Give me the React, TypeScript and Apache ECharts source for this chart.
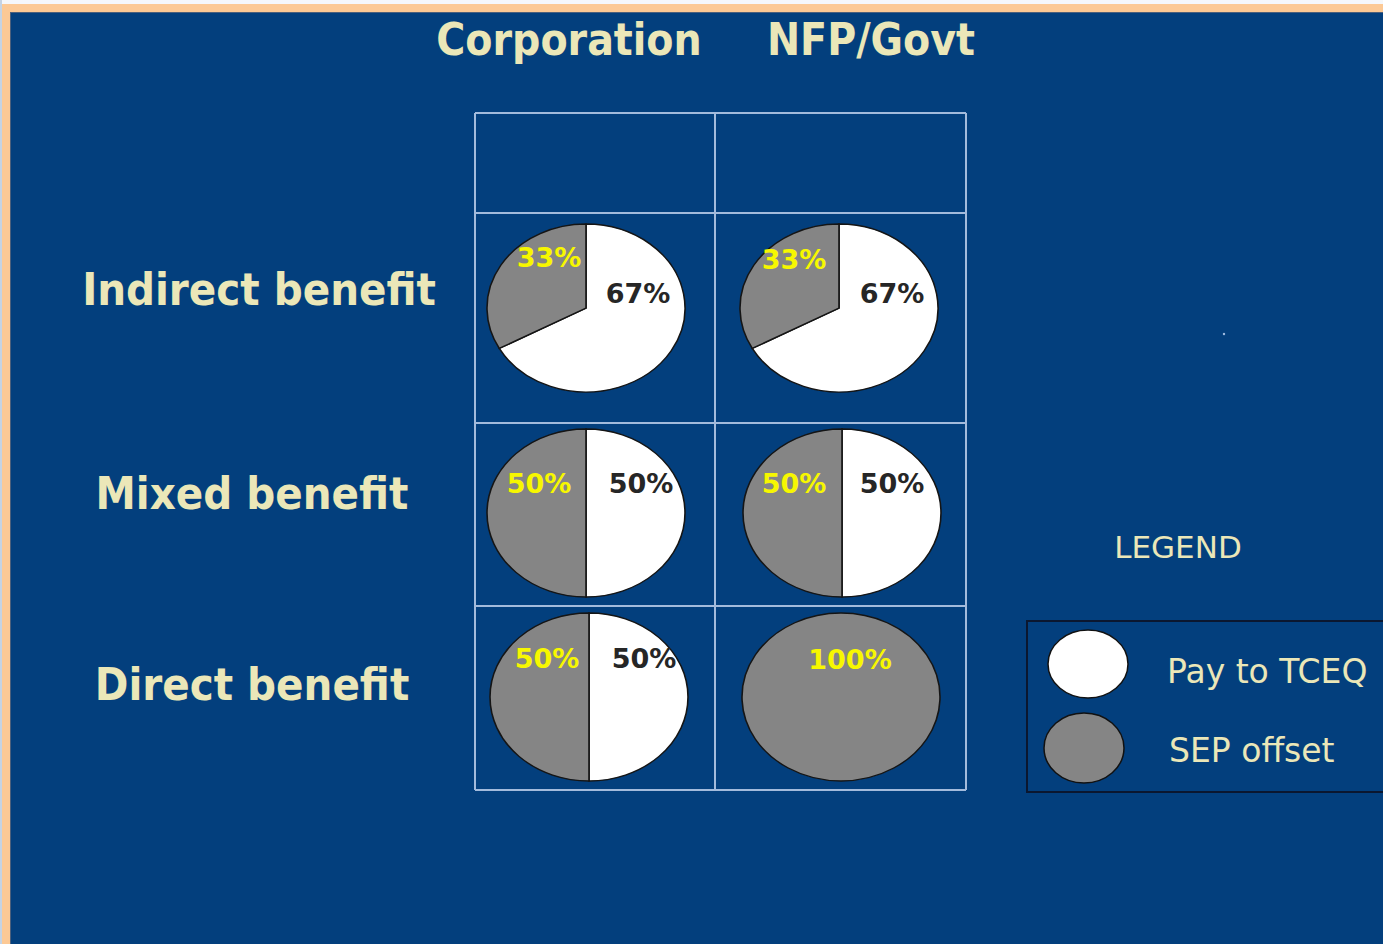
import React, { useEffect, useRef } from "react";
import * as echarts from "echarts";

// ---- data ----
const columns = ["Corporation", "NFP/Govt"];
const rowLabels = ["Indirect benefit", "Mixed benefit", "Direct benefit"];
// row-major: [Indirect-Corp, Indirect-NFP, Mixed-Corp, Mixed-NFP, Direct-Corp, Direct-NFP]
const payToTCEQ = [67, 67, 50, 50, 50, 0];
const sepOffset = [33, 33, 50, 50, 50, 100];
const legendTitle = "LEGEND";
const legendItems = ["Pay to TCEQ", "SEP offset"];

// ---- layout / style ----
const W = 1383;
const H = 944;
const BLUE = "#033f7d";
const CREAM = "#ebe7b8";
const GRAY = "#858585";
const YELLOW = "#f7f700";
const DARK = "#262626";
const GRIDLINE = "#a3bbdc";
const FONT_C = "'DejaVu Sans Condensed', 'DejaVu Sans', Verdana, sans-serif";
const FONT = "'DejaVu Sans', Verdana, sans-serif";
const RX = 99;
const RY = 84;
const cellCenters = [
  [586, 308], [839, 308],
  [586, 513], [842, 513],
  [589, 697], [841, 697],
];
const payLabelOffsets = [[52, -15], [53, -15], [55, -30], [50, -30], [55, -39], [0, 0]];
const sepLabelOffsets = [[-37, -51], [-45, -49], [-47, -30], [-48, -30], [-42, -39], [9, -38]];
const colTitleX = [569, 871];
const rowLabelPos = [[259, 289], [252, 493], [252, 684]];
const tableX = [475, 715, 966];
const tableY = [113, 213, 423, 606, 790];

export default function App() {
  const ref = useRef<HTMLDivElement>(null);
  useEffect(() => {
    document.body.style.margin = "0";
    if (!ref.current) return;
    const chart = echarts.init(ref.current, undefined, { renderer: "svg" });

    const graphics: any[] = [];
    // page border
    graphics.push(
      { type: "rect", shape: { x: 0, y: 0, width: W, height: 4 }, style: { fill: "#f5f7fa" }, z: 0 },
      { type: "rect", shape: { x: 0, y: 4, width: W, height: 8 }, style: { fill: "#fcc995" }, z: 0 },
      { type: "rect", shape: { x: 0, y: 0, width: 2, height: H }, style: { fill: "#c5d3e3" }, z: 0 },
      { type: "rect", shape: { x: 2, y: 4, width: 8, height: H }, style: { fill: "#fcc995" }, z: 0 },
      { type: "rect", shape: { x: 10, y: 12, width: 1, height: H }, style: { fill: "#4d607c" }, z: 0 },
      { type: "rect", shape: { x: 10, y: 12, width: W, height: 1 }, style: { fill: "#4d607c" }, z: 0 }
    );
    // table lines
    tableY.forEach((y) =>
      graphics.push({
        type: "line",
        shape: { x1: tableX[0], y1: y, x2: tableX[2], y2: y },
        style: { stroke: GRIDLINE, lineWidth: 2 },
      })
    );
    tableX.forEach((x) =>
      graphics.push({
        type: "line",
        shape: { x1: x, y1: tableY[0], x2: x, y2: tableY[tableY.length - 1] },
        style: { stroke: GRIDLINE, lineWidth: 2 },
      })
    );
    // column titles
    columns.forEach((c, i) =>
      graphics.push({
        type: "text",
        x: colTitleX[i],
        y: 39,
        style: {
          text: c,
          fill: CREAM,
          font: `bold 44px ${FONT_C}`,
          textAlign: "center",
          textVerticalAlign: "middle",
        },
      })
    );
    // row labels
    rowLabels.forEach((r, i) =>
      graphics.push({
        type: "text",
        x: rowLabelPos[i][0],
        y: rowLabelPos[i][1],
        style: {
          text: r,
          fill: CREAM,
          font: `bold 45px ${FONT_C}`,
          textAlign: "center",
          textVerticalAlign: "middle",
        },
      })
    );
    // legend
    graphics.push(
      {
        type: "text",
        x: 1178,
        y: 547,
        style: { text: legendTitle, fill: CREAM, font: `31px ${FONT}`, textAlign: "center", textVerticalAlign: "middle" },
      },
      {
        type: "rect",
        shape: { x: 1027, y: 621, width: 400, height: 171 },
        style: { fill: "none", stroke: "#0b1730", lineWidth: 2 },
      },
      {
        type: "ellipse",
        shape: { cx: 1088, cy: 664, rx: 40, ry: 34 },
        style: { fill: "#ffffff", stroke: "#111", lineWidth: 1.5 },
      },
      {
        type: "ellipse",
        shape: { cx: 1084, cy: 748, rx: 40, ry: 35 },
        style: { fill: GRAY, stroke: "#111", lineWidth: 1.5 },
      },
      {
        type: "text",
        x: 1167,
        y: 671,
        style: { text: legendItems[0], fill: CREAM, font: `33px ${FONT}`, textAlign: "left", textVerticalAlign: "middle" },
      },
      {
        type: "text",
        x: 1169,
        y: 750,
        style: { text: legendItems[1], fill: CREAM, font: `33px ${FONT}`, textAlign: "left", textVerticalAlign: "middle" },
      },
      { type: "circle", shape: { cx: 1224, cy: 334, r: 1.2 }, style: { fill: "#a8c2e6" } }
    );

    const data = payToTCEQ.map((p, i) => [Math.floor(i / 2), i % 2, p, sepOffset[i]]);

    const labelFont = `bold 27px ${FONT}`;

    chart.setOption({
      animation: false,
      backgroundColor: BLUE,
      graphic: { elements: graphics },
      series: [
        {
          type: "custom",
          coordinateSystem: "none",
          data,
          z: 5,
          renderItem: (params: any, api: any) => {
            const i = params.dataIndex;
            const pay = api.value(2) as number;
            const sep = api.value(3) as number;
            const total = pay + sep;
            const [cx, cy] = cellCenters[i];
            const start = -Math.PI / 2;
            const payEnd = start + (2 * Math.PI * pay) / total;
            const sectors: any[] = [];
            if (pay > 0) {
              sectors.push({
                type: "sector",
                shape: { cx: 0, cy: 0, r: RX, r0: 0, startAngle: start, endAngle: payEnd, clockwise: true },
                style: { fill: "#ffffff", stroke: "#151515", lineWidth: 1.6 },
              });
            }
            if (sep > 0) {
              sectors.push({
                type: "sector",
                shape: { cx: 0, cy: 0, r: RX, r0: 0, startAngle: payEnd, endAngle: start + 2 * Math.PI, clockwise: true },
                style: { fill: GRAY, stroke: "#151515", lineWidth: 1.6 },
              });
            }
            const texts: any[] = [];
            if (pay > 0) {
              texts.push({
                type: "text",
                x: cx + payLabelOffsets[i][0],
                y: cy + payLabelOffsets[i][1],
                style: { text: `${pay}%`, fill: DARK, font: labelFont, textAlign: "center", textVerticalAlign: "middle" },
              });
            }
            if (sep > 0) {
              texts.push({
                type: "text",
                x: cx + sepLabelOffsets[i][0],
                y: cy + sepLabelOffsets[i][1],
                style: { text: `${sep}%`, fill: YELLOW, font: labelFont, textAlign: "center", textVerticalAlign: "middle" },
              });
            }
            return {
              type: "group",
              children: [
                { type: "group", x: cx, y: cy, scaleX: 1, scaleY: RY / RX, children: sectors },
                ...texts,
              ],
            };
          },
        },
      ],
    });
    return () => chart.dispose();
  }, []);
  return (
    <div
      ref={ref}
      style={{ position: "absolute", left: 0, top: 0, width: W, height: H }}
    />
  );
}
